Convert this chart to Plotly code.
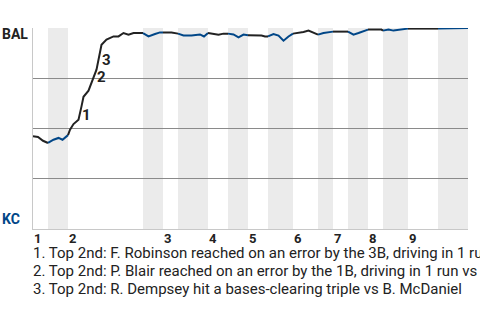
import plotly.graph_objects as go

# Plate-appearance progress (x) and Baltimore win probability (%)
pa = [0, 1.0, 2.0, 3.0, 4.1, 5.1, 5.9, 7.0, 7.4, 8.1, 9.1, 9.7, 10.1, 11.1, 11.7, 12.1,
      12.7, 13.7, 14.7, 16.1, 17.1, 18.1, 19.1, 20.1, 22.0, 23.1, 24.4, 25.4, 26.0, 27.7,
      29.0, 30.1, 31.7, 32.7, 33.4, 34.2, 35.0, 36.1, 37.1, 38.1, 39.0, 40.1, 41.1, 42.1,
      43.0, 45.7, 46.4, 47.0, 48.1, 49.1, 50.1, 51.1, 52.0, 53.4, 54.1, 55.1, 55.7, 56.4,
      57.0, 58.1, 60.0, 63.0, 63.4, 64.1, 65.1, 66.4, 67.0, 69.7, 70.0, 71.1, 72.1, 73.4,
      75.0, 81.0, 86.9, 87.0]
bal_wp = [46.1, 45.8, 43.9, 42.8, 44.4, 45.3, 44.4, 46.7, 49.4, 52.2, 54.4, 61.0, 65.8, 68.8,
          72.6, 75.1, 79.3, 91.7, 94.2, 95.8, 95.8, 97.5, 96.7, 97.5, 97.5, 95.8, 97.0, 97.8,
          97.8, 97.8, 97.2, 96.3, 96.3, 96.8, 96.8, 95.8, 97.5, 97.2, 96.7, 97.2, 97.2, 96.8,
          95.3, 96.7, 96.4, 96.3, 95.8, 95.8, 97.0, 96.2, 93.7, 95.8, 97.2, 97.5, 98.0, 98.7,
          98.0, 97.5, 96.7, 97.5, 98.2, 98.2, 97.5, 96.7, 97.5, 98.8, 99.2, 99.2, 98.7, 99.2,
          98.7, 99.2, 99.7, 99.7, 99.7, 100.0]

# Half-inning boundaries (in plate appearances)
half_bounds = [0, 3, 7, 22, 26, 29, 35, 39, 43, 47, 52, 57, 60, 63, 67, 70, 75, 81, 87]
inning_labels = ["1", "2", "3", "4", "5", "6", "7", "8", "9"]

# Key events
event_labels = ["1", "2", "3"]
event_x = [10.74, 13.66, 14.66]
event_y = [56.9, 75.8, 84.1]
event_text = [
    "1. Top 2nd: F. Robinson reached on an error by the 3B, driving in 1 run vs B. McDaniel",
    "2. Top 2nd: P. Blair reached on an error by the 1B, driving in 1 run vs B. McDaniel",
    "3. Top 2nd: R. Dempsey hit a bases-clearing triple vs B. McDaniel",
]

AWAY_COLOR = "#222222"
HOME_COLOR = "#004687"
FONT = "Roboto"

fig = go.Figure()

# Line coloured by which team is batting
for i in range(len(half_bounds) - 1):
    lo, hi = half_bounds[i], half_bounds[i + 1]
    xs = [x for x in pa if lo <= x <= hi]
    ys = [y for x, y in zip(pa, bal_wp) if lo <= x <= hi]
    fig.add_trace(go.Scatter(
        x=xs, y=ys, mode="lines",
        line=dict(color=HOME_COLOR if i % 2 else AWAY_COLOR, width=2),
        hoverinfo="skip", showlegend=False,
    ))

shapes = []
for i in range(1, len(half_bounds) - 1, 2):
    shapes.append(dict(type="rect", xref="x", yref="paper",
                       x0=half_bounds[i], x1=half_bounds[i + 1], y0=0, y1=1,
                       fillcolor="#ebebeb", line=dict(width=0), layer="below"))

annotations = []
# inning labels
for k, lab in enumerate(inning_labels):
    annotations.append(dict(x=half_bounds[2 * k], y=0, xref="x", yref="paper",
                            text=f"<b>{lab}</b>", showarrow=False,
                            xanchor="left", yanchor="top", yshift=0, xshift=-1,
                            font=dict(family=FONT, size=13, color="#222222")))
# event numbers on the line
for lab, ex, ey in zip(event_labels, event_x, event_y):
    annotations.append(dict(x=ex, y=ey, xref="x", yref="y", text=f"<b>{lab}</b>",
                            showarrow=False, xanchor="center", yanchor="middle",
                            font=dict(family=FONT, size=15, color="#222222")))
# team labels
annotations.append(dict(x=0, y=1, xref="paper", yref="paper", text="<b>BAL</b>",
                        showarrow=False, xanchor="right", yanchor="middle",
                        xshift=-3, yshift=-6,
                        font=dict(family=FONT, size=14, color="#222222")))
annotations.append(dict(x=0, y=0, xref="paper", yref="paper", text="<b>KC</b>",
                        showarrow=False, xanchor="right", yanchor="middle",
                        xshift=-11, yshift=10,
                        font=dict(family=FONT, size=14, color=HOME_COLOR)))
# event descriptions
for j, t in enumerate(event_text):
    annotations.append(dict(x=0, y=0, xref="paper", yref="paper", text=t,
                            showarrow=False, xanchor="left", yanchor="middle",
                            xshift=-2, yshift=-24 - 18 * j,
                            font=dict(family=FONT, size=15, color="#222222")))

fig.update_layout(
    width=480, height=320,
    margin=dict(l=33, r=12, t=28, b=91),
    paper_bgcolor="white", plot_bgcolor="white",
    shapes=shapes, annotations=annotations,
    xaxis=dict(range=[0, 87], showgrid=False, zeroline=False, showticklabels=False,
               showline=True, linecolor="#c8c8c8", linewidth=1, ticks=""),
    yaxis=dict(range=[0, 100], tickvals=[25, 50, 75, 100], showticklabels=False,
               showgrid=True, gridcolor="#8a8a8a", gridwidth=1, zeroline=False,
               showline=True, linecolor="#c8c8c8", linewidth=1, ticks=""),
)

fig.write_html("out.html")
